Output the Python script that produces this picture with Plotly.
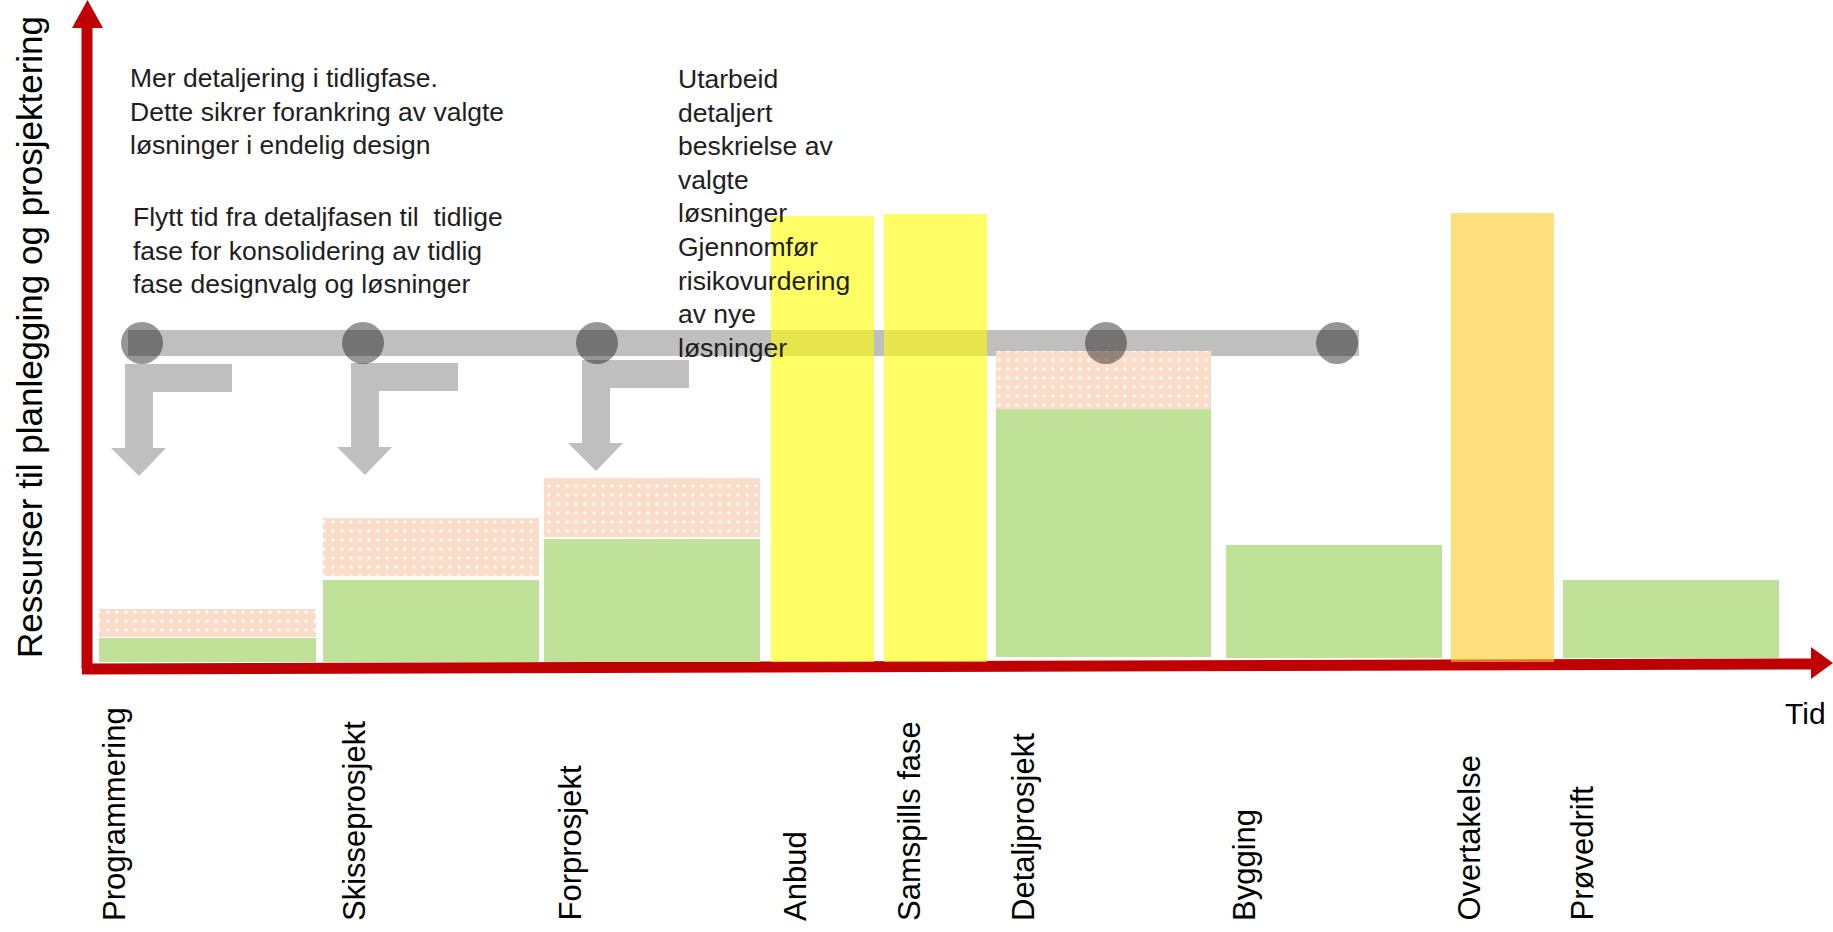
import plotly.graph_objects as go

# ---------------- data ----------------
phases = ["Programmering", "Skisseprosjekt", "Forprosjekt", "Anbud", "Samspills fase",
          "Detaljprosjekt", "Bygging", "Overtakelse", "Prøvedrift"]
phase_start = [99, 323, 544, 771, 884, 996, 1226, 1451, 1563]
phase_end = [316, 539, 760, 874, 987, 1211, 1442, 1554, 1779]
phase_base = [0, 0, 0, 0, 0, 5, 4, 0, 4]
phase_resource = [24, 82, 123, 446, 448, 253, 117, 449, 82]
phase_kind = ["green", "green", "green", "yellow", "yellow", "green", "green", "orange", "green"]

# extra (moved) resources, shown hatched on top
extra_phase = ["Programmering", "Skisseprosjekt", "Forprosjekt", "Detaljprosjekt"]
extra_from = [25, 86, 125, 253]
extra_to = [53, 144, 184, 311]

label_x = [114, 354, 570, 795, 909, 1023, 1244, 1469, 1582]

# milestone connector
milestone_x = [142, 363, 597, 1106, 1337]
connector_start, connector_end, connector_level = 128, 1359, 319

# L-shaped "move time" arrows
arrow_x = [125, 351, 582]
arrow_top = [298, 299, 302]
arrow_tip = [186, 187, 191]

text_block1 = ["Mer detaljering i tidligfase.", "Dette sikrer forankring av valgte",
               "løsninger i endelig design"]
text_block2 = ["Flytt tid fra detaljfasen til  tidlige", "fase for konsolidering av tidlig",
               "fase designvalg og løsninger"]
text_block3 = ["Utarbeid", "detaljert", "beskrielse av", "valgte", "løsninger", "Gjennomfør",
               "risikovurdering", "av nye", "løsninger"]

y_title = "Ressurser til planlegging og prosjektering"
x_title = "Tid"

# ---------------- style ----------------
W, H = 1833, 932
BASE_PX = 662           # pixel row of resource value 0
colors = {"green": "#C0E298", "yellow": "rgba(255,255,4,0.61)", "orange": "rgba(255,204,40,0.6)"}
RED = "#C00000"
TEXT_FONT = "Liberation Sans"


def v(py):
    return BASE_PX - py


fig = go.Figure()

for kind in ["green", "yellow", "orange"]:
    idx = [i for i, k in enumerate(phase_kind) if k == kind]
    fig.add_trace(go.Bar(
        x=[(phase_start[i] + phase_end[i]) / 2 for i in idx],
        width=[phase_end[i] - phase_start[i] for i in idx],
        base=[phase_base[i] for i in idx],
        y=[phase_resource[i] - phase_base[i] for i in idx],
        marker=dict(color=colors[kind], line=dict(width=0)),
        hoverinfo="skip", showlegend=False))

ex_idx = [phases.index(p) for p in extra_phase]
fig.add_trace(go.Bar(
    x=[(phase_start[i] + phase_end[i]) / 2 for i in ex_idx],
    width=[phase_end[i] - phase_start[i] for i in ex_idx],
    base=extra_from,
    y=[t - f for f, t in zip(extra_from, extra_to)],
    marker=dict(color="white", line=dict(width=0),
                pattern=dict(shape=".", fgcolor="#F5B993", bgcolor="white", size=9, solidity=0.85)),
    hoverinfo="skip", showlegend=False))

fig.add_trace(go.Scatter(
    x=milestone_x, y=[connector_level] * len(milestone_x), mode="markers",
    marker=dict(size=42, color="rgba(23,23,23,0.45)", line=dict(width=0)),
    hoverinfo="skip", showlegend=False))

shapes = []
# red axes
shapes.append(dict(type="line", xref="x", yref="y", x0=87, y0=v(669), x1=87, y1=v(28),
                   line=dict(color=RED, width=11), layer="below"))
shapes.append(dict(type="path", xref="x", yref="y",
                   path=f"M 72 {v(28)} L 103 {v(28)} L 87.5 {v(0)} Z",
                   fillcolor=RED, line=dict(width=0), layer="below"))
shapes.append(dict(type="line", xref="x", yref="y", x0=82, y0=v(669), x1=1812, y1=v(664),
                   line=dict(color=RED, width=11), layer="below"))
shapes.append(dict(type="path", xref="x", yref="y",
                   path=f"M 1811 {v(647)} L 1833 {v(663)} L 1811 {v(679)} Z",
                   fillcolor=RED, line=dict(width=0), layer="below"))
# connector
shapes.append(dict(type="line", xref="x", yref="y", x0=connector_start, x1=connector_end,
                   y0=connector_level, y1=connector_level,
                   line=dict(color="rgba(0,0,0,0.25)", width=26), layer="below"))
# L arrows
for xs, yt, ytip in zip(arrow_x, arrow_top, arrow_tip):
    yh = ytip + 28
    p = (f"M {xs} {yt} L {xs+107} {yt} L {xs+107} {yt-28} L {xs+28} {yt-28} "
         f"L {xs+28} {yh} L {xs+41} {yh} L {xs+14} {ytip} L {xs-14} {yh} L {xs} {yh} Z")
    shapes.append(dict(type="path", xref="x", yref="y", path=p,
                       fillcolor="#BFBFBF", line=dict(width=0), layer="below"))

ann = []
def block(lines, x, py0, pitch):
    for i, t in enumerate(lines):
        ann.append(dict(x=x, y=v(py0 + i * pitch), xref="x", yref="y", text=t, showarrow=False,
                        xanchor="left", yanchor="middle",
                        font=dict(family=TEXT_FONT, size=26.5, color="#1E1E1E")))

block(text_block1, 128, 78, 33.5)
block(text_block2, 131, 217, 33.5)
block(text_block3, 676, 79, 33.6)

for name, lx in zip(phases, label_x):
    ann.append(dict(x=lx, y=v(923), xref="x", yref="y", text=name, showarrow=False,
                    textangle=-90, xanchor="center", yanchor="bottom",
                    font=dict(family=TEXT_FONT, size=31, color="black")))

ann.append(dict(x=1805, y=v(713), xref="x", yref="y", text=x_title, showarrow=False,
                xanchor="center", yanchor="middle",
                font=dict(family=TEXT_FONT, size=30, color="black")))
ann.append(dict(x=29, y=v(337), xref="x", yref="y", text=y_title, showarrow=False,
                textangle=-90, xanchor="center", yanchor="middle",
                font=dict(family=TEXT_FONT, size=35, color="black")))

fig.update_layout(
    width=W, height=H, autosize=False,
    margin=dict(l=0, r=0, t=0, b=0, pad=0),
    paper_bgcolor="white", plot_bgcolor="white",
    barmode="overlay", bargap=0,
    xaxis=dict(range=[0, W], visible=False, fixedrange=True),
    yaxis=dict(range=[v(H), v(0)], visible=False, fixedrange=True),
    shapes=shapes, annotations=ann,
)

fig.write_html("out.html")
